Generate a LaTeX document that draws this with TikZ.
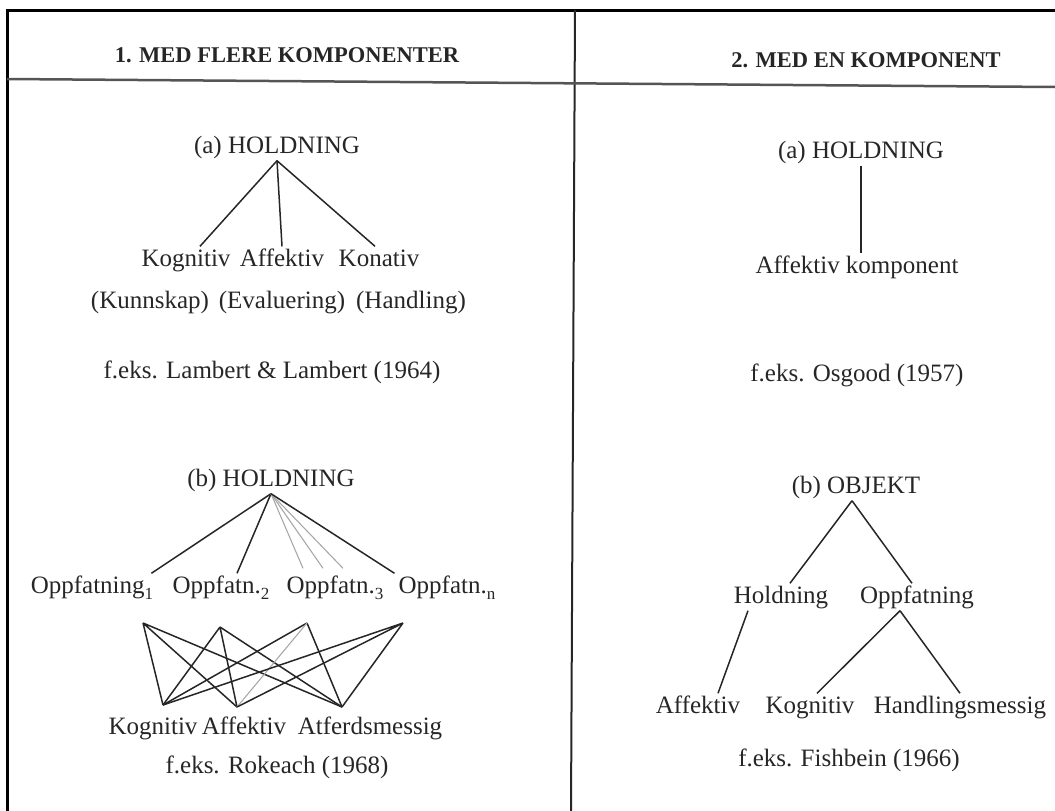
\documentclass[tikz,border=0pt]{standalone}
\usepackage{fontspec}
\setmainfont{Liberation Serif}
\definecolor{ink}{HTML}{262626}
\definecolor{faint}{HTML}{A8A8A8}
\definecolor{rulegray}{HTML}{555555}
\newcommand{\lowidx}[1]{\raisebox{-0.5ex}{\fontsize{17}{17}\selectfont #1}}

\begin{document}
\begin{tikzpicture}[x=1pt, y=-1pt,
  lbl/.style={text=ink, inner sep=2pt, text height=18pt, text depth=5pt,
    font=\fontsize{25}{30}\selectfont},
  head/.style={text=ink, inner sep=2pt, font=\bfseries\fontsize{22.5}{27}\selectfont},
  edge/.style={draw=ink, line width=1.5pt},
  thin/.style={draw=faint, line width=1.1pt}]
  \useasboundingbox (0,0) rectangle (1055,811);

  % Frame, column rule and header rule
  \draw[black, line width=3pt] (7,811) -- (7,10) -- (1055,10);
  \draw[ink, line width=2pt] (575,10) -- (571,811);
  \draw[rulegray, line width=2.5pt] (7,79) -- (1055,87);

  % Column headers
  \node[head] (h1) at (287,55) {1. MED FLERE KOMPONENTER};
  \node[head] (h2) at (866,60) {2. MED EN KOMPONENT};

  % Left (a) - three components
  \node[lbl] (hA) at (277,147) {(a) HOLDNING};
  \node[lbl] (kA) at (186,260) {Kognitiv};
  \node[lbl] (aA) at (282,260) {Affektiv};
  \node[lbl] (koA) at (379,260) {Konativ};
  \node[lbl] (kuA) at (150,302) {(Kunnskap)};
  \node[lbl] (evA) at (282,302) {(Evaluering)};
  \node[lbl] (haA) at (411,302) {(Handling)};
  \node[lbl] (lamb) at (272,372) {f.eks. Lambert \& Lambert (1964)};
  \draw[edge] (hA.south) -- ([xshift=14pt]kA.north);
  \draw[edge] (hA.south) -- (aA.north);
  \draw[edge] (hA.south) -- ([xshift=-4pt]koA.north);

  % Left (b) - beliefs and components
  \node[lbl] (hB) at (271,480) {(b) HOLDNING};
  \node[lbl] (o1) at (92,587) {Oppfatning\lowidx{1}};
  \node[lbl] (o2) at (221,587) {Oppfatn.\lowidx{2}};
  \node[lbl] (o3) at (335,587) {Oppfatn.\lowidx{3}};
  \node[lbl] (on) at (447,587) {Oppfatn.\lowidx{n}};
  \draw[edge] (hB.south) -- ([xshift=-4pt]o1.north east);
  \draw[edge] (hB.south) -- ([xshift=16pt]o2.north);
  \draw[thin] (hB.south) -- ([xshift=-32pt,yshift=5pt]o3.north);
  \draw[thin] (hB.south) -- ([xshift=-12pt,yshift=5pt]o3.north);
  \draw[thin] (hB.south) -- ([xshift=8pt,yshift=5pt]o3.north);
  \draw[edge] (hB.south) -- ([xshift=-2pt]on.north west);

  \coordinate (u1) at (143,623);
  \coordinate (u2) at (220,627);
  \coordinate (u3) at (307,623);
  \coordinate (u4) at (403,623);
  \coordinate (w1) at (163,705);
  \coordinate (w2) at (237,707);
  \coordinate (w3) at (342,707);
  \draw[edge] (u1) -- (w1) (u1) -- (w2) (u1) -- (w3);
  \draw[edge] (u2) -- (w1) (u2) -- (w2) (u2) -- (w3);
  \draw[edge] (u3) -- (w1) (u3) -- (w3);
  \draw[thin] (u3) -- (w2);
  \draw[edge] (u4) -- (w1) (u4) -- (w2) (u4) -- (w3);

  \node[lbl] (kB) at (153,728) {Kognitiv};
  \node[lbl] (aB) at (244,728) {Affektiv};
  \node[lbl] (atB) at (370,728) {Atferdsmessig};
  \node[lbl] (roke) at (277,767) {f.eks. Rokeach (1968)};

  % Right (a) - one component
  \node[lbl] (hC) at (861,152) {(a) HOLDNING};
  \node[lbl] (aC) at (857,267) {Affektiv komponent};
  \node[lbl] (osg) at (857,375) {f.eks. Osgood (1957)};
  \draw[edge] (hC.south) -- (hC.south |- aC.north);

  % Right (b) - object, attitude and belief
  \node[lbl] (ob) at (856,487) {(b) OBJEKT};
  \node[lbl] (hd) at (781,597) {Holdning};
  \node[lbl] (op) at (917,597) {Oppfatning};
  \node[lbl] (af) at (698,707) {Affektiv};
  \node[lbl] (kg) at (810,707) {Kognitiv};
  \node[lbl] (hm) at (960,707) {Handlingsmessig};
  \node[lbl] (fish) at (849,760) {f.eks. Fishbein (1966)};
  \draw[edge] ([xshift=-4pt]ob.south) -- ([xshift=9pt]hd.north);
  \draw[edge] ([xshift=-4pt]ob.south) -- ([xshift=-5pt]op.north);
  \draw[edge] ([xshift=-33pt]hd.south) -- ([xshift=20pt]af.north);
  \draw[edge] ([xshift=-17pt]op.south) -- ([xshift=7pt]kg.north);
  \draw[edge] ([xshift=-17pt]op.south) -- (hm.north);
\end{tikzpicture}
\end{document}
